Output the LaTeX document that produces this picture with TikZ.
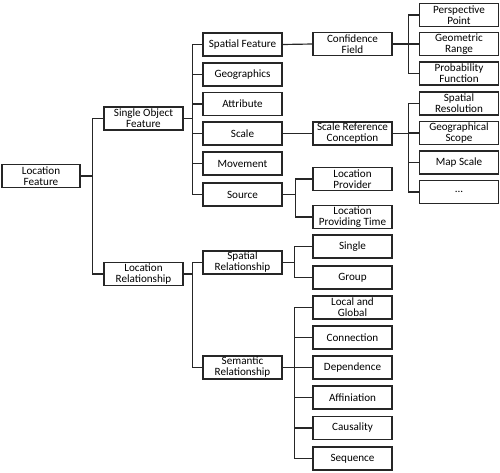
\documentclass[tikz,border=0pt]{standalone}
\usepackage{fontspec}
\setmainfont{Carlito}
\tikzset{
    box/.style={draw=black!85, line width=0.9pt, fill=white, minimum width=2.37cm,
        minimum height=0.69cm, inner sep=0pt, align=center,
        font=\fontsize{9.5}{9.4}\selectfont},
    link/.style={draw=black!85, line width=1pt},
}
\begin{document}
\begin{tikzpicture}[x=0.03cm,y=-0.03cm]
        \useasboundingbox (0,0) rectangle (500,472);
        %% Root and first level
        \node[box,minimum width=2.34cm] (lf) at (41,176) {Location\\Feature};
        \node[box] (sof) at (143.5,118.5) {Single Object\\Feature};
        \node[box] (lr) at (143.5,274) {Location\\Relationship};
        %% Second level
        \node[box] (sf) at (242.5,44.5) {Spatial Feature};
        \node[box] (geo) at (242.5,74.5) {Geographics};
        \node[box] (att) at (242.5,104) {Attribute};
        \node[box] (sca) at (242.5,133.5) {Scale};
        \node[box] (mov) at (242.5,163.5) {Movement};
        \node[box] (src) at (242.5,194.5) {Source};
        \node[box] (spr) at (242.5,262.5) {Spatial\\Relationship};
        \node[box] (semr) at (242.5,367.5) {Semantic\\Relationship};
        %% Third level
        \node[box] (cf) at (352.5,44) {Confidence\\Field};
        \node[box] (srcon) at (352.5,133.5) {Scale Reference\\Conception};
        \node[box] (lp) at (352.5,179) {Location\\Provider};
        \node[box] (lpt) at (352.5,217) {Location\\Providing Time};
        \node[box] (sgl) at (352.5,246.5) {Single};
        \node[box] (grp) at (352.5,277.5) {Group};
        \node[box] (lg) at (352.5,307.5) {Local and\\Global};
        \node[box] (con) at (352.5,337.5) {Connection};
        \node[box] (dep) at (352.5,367.5) {Dependence};
        \node[box] (aff) at (352.5,397.5) {Affiniation};
        \node[box] (cau) at (352.5,428) {Causality};
        \node[box] (seq) at (352.5,458.5) {Sequence};
        %% Fourth level
        \node[box] (pp) at (459,15) {Perspective\\Point};
        \node[box] (gr) at (459,44) {Geometric\\Range};
        \node[box] (pf) at (459,73.5) {Probability\\Function};
        \node[box] (sres) at (459,103.5) {Spatial\\Resolution};
        \node[box] (gs) at (459,133) {Geographical\\Scope};
        \node[box] (ms) at (459,162.5) {Map Scale};
        \node[box] (dots) at (459,192) {...};
        %% Connectors
        \foreach \c in {sof,lr}
            \draw[link] (lf.east) -- ++(12,0) |- (\c.west);
        \foreach \c in {sf,geo,att,sca,mov,src}
            \draw[link] (sof.east) -- ++(9,0) |- (\c.west);
        \foreach \c in {spr,semr}
            \draw[link] (lr.east) -- ++(9,0) |- (\c.west);
        \draw[link] (sf.east) -- (cf.west);
        \draw[link] (sca.east) -- (srcon.west);
        \foreach \c in {lp,lpt}
            \draw[link] (src.east) -- ++(13,0) |- (\c.west);
        \foreach \c in {sgl,grp}
            \draw[link] (spr.east) -- ++(12,0) |- (\c.west);
        \foreach \c in {lg,con,dep,aff,cau,seq}
            \draw[link] (semr.east) -- ++(12,0) |- (\c.west);
        \foreach \c in {pp,gr,pf}
            \draw[link] (cf.east) -- ++(16,0) |- (\c.west);
        \foreach \c in {sres,gs,ms,dots}
            \draw[link] (srcon.east) -- ++(16,0) |- (\c.west);
    \end{tikzpicture}
\end{document}
